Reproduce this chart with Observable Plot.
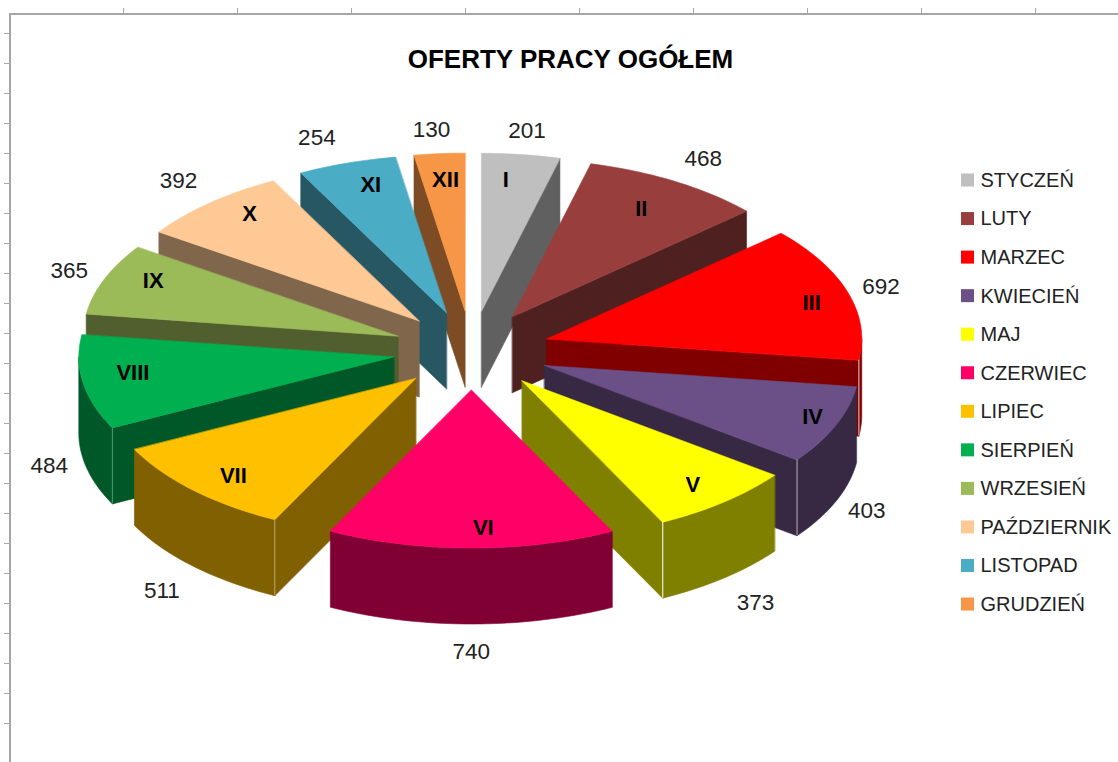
<!DOCTYPE html>
<html><head><meta charset="utf-8">
<script src="https://cdn.jsdelivr.net/npm/d3@7"></script>
<script src="https://cdn.jsdelivr.net/npm/@observablehq/plot@0.6"></script>
<style>html,body{margin:0;padding:0;background:#fff}svg{display:block}</style>
</head><body><div id="c"></div>
<script>
const title = "OFERTY PRACY OGÓŁEM";
const months = ["STYCZEŃ","LUTY","MARZEC","KWIECIEŃ","MAJ","CZERWIEC","LIPIEC","SIERPIEŃ","WRZESIEŃ","PAŹDZIERNIK","LISTOPAD","GRUDZIEŃ"];
const romans = ["I","II","III","IV","V","VI","VII","VIII","IX","X","XI","XII"];
const values = [201,468,692,403,373,740,511,484,365,392,254,130];
const topColors = ["#BFBFBF","#983F3E","#FF0000","#6A5086","#FFFF00","#FF0066","#FFC000","#00B050","#9BBB59","#FFC996","#4BACC6","#F79646"];
const sideColors = ["#606060","#4E2120","#800000","#372944","#808000","#800033","#806000","#005828","#505F2D","#80674C","#265763","#7D4C24"];

// layout of the pseudo-3D pie
const cx = 471, cy = 350, rx = 315, ry = 158, depth = 76, explode = 0.25;
const total = d3.sum(values);
const rad = d => d * Math.PI / 180;
const ends = d3.cumsum(values).map(v => v / total * 360);
const wedges = values.map((v, i) => {
  const a = i ? ends[i - 1] : 0, b = ends[i], m = (a + b) / 2;
  return {i, a, b, m,
    ax: cx + explode * rx * Math.sin(rad(m)),
    ay: cy - explode * ry * Math.cos(rad(m))};
});
const rim = (w, t, z = 0) => ({x: w.ax + rx * Math.sin(rad(t)), y: w.ay - ry * Math.cos(rad(t)) + z});
const arc = (w, a, b, z = 0) => {
  const n = Math.max(2, Math.ceil((b - a) / 1.5));
  return d3.range(n + 1).map(k => rim(w, a + (b - a) * k / n, z));
};

// faces in painter's order: the farther a wedge is from the viewer, the earlier
const faces = [];
const addFace = (pts, color) => {
  const id = faces.length ? faces[faces.length - 1].face + 1 : 0;
  pts.forEach(p => faces.push({x: p.x, y: p.y, face: id, color}));
};
const order = [...wedges].sort((p, q) => Math.abs(q.m - 180) - Math.abs(p.m - 180));
for (const w of order) {
  const side = sideColors[w.i], apex = {x: w.ax, y: w.ay}, low = {x: w.ax, y: w.ay + depth};
  if (Math.sin(rad(w.a)) < -1e-6) addFace([apex, rim(w, w.a), rim(w, w.a, depth), low], side);
  if (Math.sin(rad(w.b)) > 1e-6) addFace([apex, rim(w, w.b), rim(w, w.b, depth), low], side);
  const f0 = Math.max(w.a, 90), f1 = Math.min(w.b, 270);
  if (f1 > f0) addFace([...arc(w, f0, f1), ...arc(w, f0, f1, depth).reverse()], side);
  addFace([apex, ...arc(w, w.a, w.b)], topColors[w.i]);
}

// value labels sit outside the rim, wedge names inside; nudges follow the picture
const valueNudge = [[0,3],[3,0],[-12,2],[-13,-1],[1,4],[0,1],[2,6],[13,3],[9,1],[0,-2],[-15,0],[-4,3]];
const romanNudge = [[-8,-3],[-5,3],[18,2],[29,3],[5,5],[12,8],[0,6],[-6,-5],[-4,-9],[2,-10],[6,-5],[1.5,-2.5]];
const valueLabels = wedges.map(w => {
  const s = Math.sin(rad(w.m)), c = Math.cos(rad(w.m));
  return {text: String(values[w.i]),
    x: cx + 1.40 * rx * s + valueNudge[w.i][0],
    y: cy - 1.42 * ry * c + (c < 0 ? depth : 0) + valueNudge[w.i][1]};
});
const romanLabels = wedges.map(w => {
  const s = Math.sin(rad(w.m)), c = Math.cos(rad(w.m));
  return {text: romans[w.i],
    x: w.ax + 0.82 * rx * s + romanNudge[w.i][0],
    y: w.ay - 0.82 * ry * c + romanNudge[w.i][1]};
});

// light edges at the near corners: [wedge index, which boundary, colour]
const edges = [[2, "b", "#e8d0d0"], [3, "b", "#b5b0bb"], [4, "b", "#ffffff"], [6, "a", "#b8a566"], [7, "a", "#4f9a72"]]
  .map(([i, key, color]) => {
    const w = wedges[i], p = rim(w, w[key]);
    return {x: p.x, y1: p.y, y2: p.y + depth, color};
  });

const legend = months.map((name, i) => ({name, i, color: topColors[i],
  y: 180 + i * 38.55}));

const xTicks = d3.range(9).map(k => 123 + k * 114);
const yTicks = d3.range(24).map(k => 33 + k * 30);
const frame = "#a6a6a6";
const font = "'Liberation Sans', Arial, sans-serif";

document.getElementById("c").append(Plot.plot({
  width: 1118, height: 762,
  margin: 0, marginTop: 0, marginRight: 0, marginBottom: 0, marginLeft: 0,
  x: {domain: [0, 1118], range: [0, 1118], axis: null},
  y: {domain: [0, 762], range: [0, 762], axis: null},
  style: {background: "#fff", fontFamily: font},
  marks: [
    Plot.ruleX(xTicks, {y1: 8, y2: 13, stroke: frame}),
    Plot.ruleY(yTicks, {x1: 4, x2: 9, stroke: frame}),
    Plot.ruleY([13.5], {x1: 9, x2: 1118, stroke: frame, strokeWidth: 2}),
    Plot.ruleX([9.5], {y1: 13, y2: 762, stroke: frame, strokeWidth: 2}),
    Plot.line(faces, {x: "x", y: "y", z: "face", fill: "color", stroke: "color", strokeWidth: 0.6, curve: "linear-closed"}),
    Plot.ruleX(edges, {x: "x", y1: "y1", y2: "y2", stroke: "color", strokeWidth: 1}),
    Plot.text(romanLabels, {x: "x", y: "y", text: "text", fontSize: 22, fontWeight: 700, fill: "#000", stroke: "none"}),
    Plot.text(valueLabels, {x: "x", y: "y", text: "text", fontSize: 22.5, fill: "#222"}),
    Plot.text([title], {x: () => 570, y: () => 59, text: d => d, fontSize: 26, fontWeight: 700, fill: "#000"}),
    Plot.rect(legend, {x1: () => 961, x2: () => 974, y1: d => d.y - 6.5, y2: d => d.y + 6.5, fill: "color"}),
    Plot.text(legend, {x: () => 980, y: "y", text: "name", textAnchor: "start", fontSize: 20, fill: "#222"})
  ]
}));
</script></body></html>
